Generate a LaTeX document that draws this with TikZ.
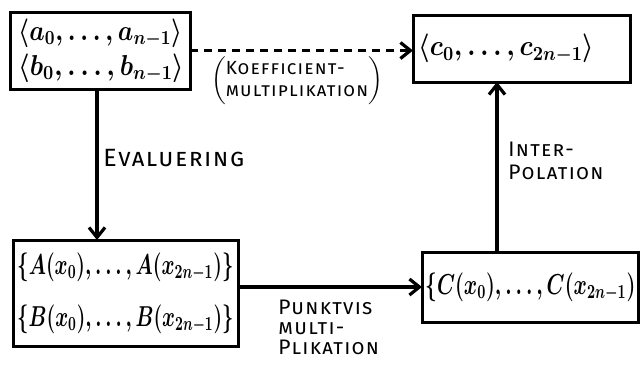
\documentclass[tikz,border=0pt]{standalone}
\usepackage{graphicx}
\usepackage{fontspec}
\setmainfont{Fira Sans}
\usetikzlibrary{arrows.meta,calc}
\newfontfamily\lblfont[Letters=SmallCaps,LetterSpace=6]{Fira Sans}
% a math line squeezed to a given width, keeping its height
\newcommand{\fitline}[2]{\resizebox{#1}{\height}{$#2$}}
\begin{document}
\begin{tikzpicture}[x=0.5pt,y=-0.5pt,
  box/.style={draw,line width=1.5pt,inner sep=0pt,outer sep=0pt},
  seqtext/.style={font=\fontsize{14}{17.5}\selectfont\boldmath,align=left,inner sep=0pt},
  settext/.style={font=\fontsize{14.5}{26}\selectfont\boldmath,align=left,inner sep=0pt},
  conn/.style={line width=1.8pt,-{Straight Barb[length=5pt,width=8pt,line width=1.6pt]}},
  lbl/.style={font=\fontsize{10.5}{10}\selectfont\lblfont,align=left,inner sep=0pt}]
\useasboundingbox (0,0) rectangle (641,366);

% boxes
\node[box,minimum width=90pt,minimum height=38.5pt] (coefab) at (100,50.5) {};
\node[seqtext,anchor=west] at ([xshift=4pt]coefab.west)
  {\fitline{82pt}{\langle a_0,\ldots,a_{n-1}\rangle}\\\fitline{83pt}{\langle b_0,\ldots,b_{n-1}\rangle}};

\node[box,minimum width=108.5pt,minimum height=33.5pt] (coefc) at (521.5,48.5) {};
\node[seqtext,anchor=west] at ([xshift=2.5pt]coefc.west) {\fitline{88pt}{\langle c_0,\ldots,c_{2n-1}\rangle}};

\node[box,minimum width=112.5pt,minimum height=53pt] (valab) at (125.5,293) {};
\node[settext,anchor=west] at ([xshift=2pt]valab.west)
  {\fitline{108pt}{\{A(x_0),\ldots,A(x_{2n-1})\}}\\\fitline{108pt}{\{B(x_0),\ldots,B(x_{2n-1})\}}};

\node[box,minimum width=108pt,minimum height=35pt] (valc) at (530,287) {};
\node[settext,anchor=west] at ([xshift=1.5pt]valc.west) {\fitline{105pt}{\{C(x_0),\ldots,C(x_{2n-1})}};

% connectors
\draw[conn,dashed,dash pattern=on 4pt off 3pt,line width=1.2pt] (coefab.east) -- (coefab.east -| coefc.west);
\draw[conn] ([xshift=-1.5pt]coefab.south) -- ([xshift=-1.5pt]coefab.south |- valab.north);
\draw[conn] (valc.west -| valab.east) -- (valc.west);
\draw[conn] ([xshift=-16.5pt]valc.north) -- ([xshift=-16.5pt]valc.north |- coefc.south);

% labels
\node[lbl,anchor=west,font=\fontsize{12.5}{13}\selectfont\lblfont] (lev) at (103,158) {Evaluering};
\node[lbl,anchor=north west,font=\fontsize{10.5}{11.5}\selectfont\lblfont] (lip) at (508,142) {Inter-\\Polation};
\node[lbl,anchor=north west] (lpm) at (278,300) {Punktvis\\multi-\\Plikation};
\node[lbl,anchor=center,font=\fontsize{9.5}{11}\selectfont\lblfont] (lkm) at (297,81)
  {$\left(\vcenter{\hbox{\begin{tabular}{@{}l@{}}Koefficient-\\[0pt]multiplikation\end{tabular}}}\right)$};
\end{tikzpicture}
\end{document}
